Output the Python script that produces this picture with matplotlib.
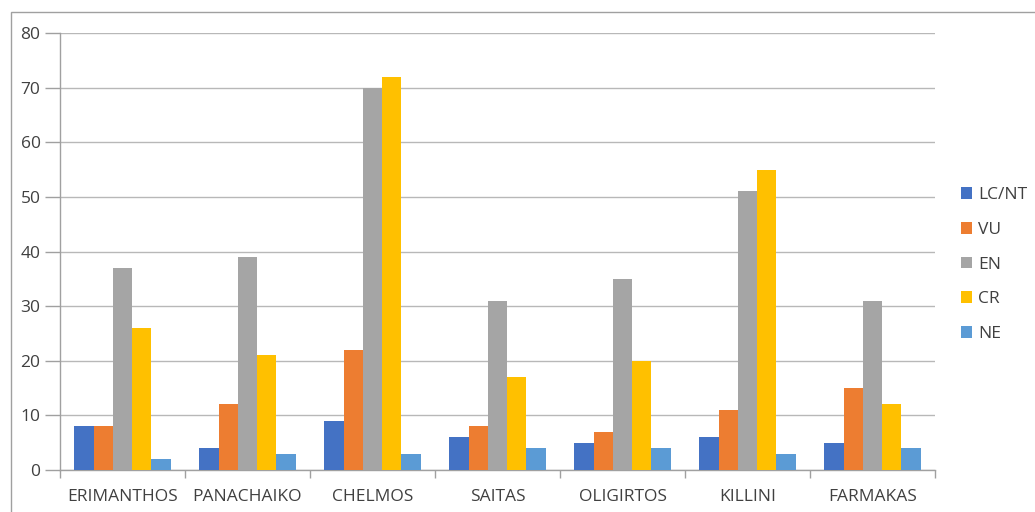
import matplotlib
matplotlib.use("Agg")
import matplotlib.pyplot as plt
import numpy as np
from matplotlib.patches import Rectangle

categories = ["ERIMANTHOS", "PANACHAIKO", "CHELMOS", "SAITAS", "OLIGIRTOS", "KILLINI", "FARMAKAS"]
series_names = ["LC/NT", "VU", "EN", "CR", "NE"]
lc_nt = [8, 4, 9, 6, 5, 6, 5]
vu = [8, 12, 22, 8, 7, 11, 15]
en = [37, 39, 70, 31, 35, 51, 31]
cr = [26, 21, 72, 17, 20, 55, 12]
ne = [2, 3, 3, 4, 4, 3, 4]
yticks = [0, 10, 20, 30, 40, 50, 60, 70, 80]
colors = ["#4472C4", "#ED7D31", "#A5A5A5", "#FFC000", "#5B9BD5"]

plt.rcParams['font.family'] = ['Open Sans', 'DejaVu Sans']

fig = plt.figure(figsize=(10.35, 5.12), dpi=100)
ax = fig.add_axes([60/1035, 1-470/512, 875/1035, 437/512])

# outer chart border
fig.patches.append(Rectangle((11/1035, -0.1), 1.2, 1-12/512+0.1, transform=fig.transFigure,
                             fill=False, edgecolor="#A0A0A0", linewidth=1.0))

x = np.arange(len(categories))
bw = 0.154
data = [lc_nt, vu, en, cr, ne]
for i, (name, vals) in enumerate(zip(series_names, data)):
    ax.bar(x + (i - 2) * bw, vals, width=bw, color=colors[i], label=name, zorder=3)

ax.set_xlim(-0.5, len(categories) - 0.5)
ax.set_ylim(0, 80)
ax.set_yticks(yticks)
ax.yaxis.grid(True, color="#B8B8B8", linewidth=1.0, zorder=0)
ax.set_axisbelow(True)

ax.set_xticks(x)
ax.set_xticklabels(categories)
ax.set_xticks(np.arange(-0.5, len(categories)), minor=True)
ax.tick_params(axis='x', which='major', length=0, pad=14, labelsize=12.5, labelcolor="#404040")
ax.tick_params(axis='x', which='minor', length=6, color="#A0A0A0", width=1)
ax.tick_params(axis='y', length=11, color="#A0A0A0", width=1, labelsize=12.5, labelcolor="#404040", pad=3)

for s in ["top", "right"]:
    ax.spines[s].set_visible(False)
for s in ["left", "bottom"]:
    ax.spines[s].set_color("#A0A0A0")
    ax.spines[s].set_linewidth(1.0)

leg = ax.legend(loc="center left", bbox_to_anchor=(961/875 - 60/875, 0.47), frameon=False,
                fontsize=12.5, handlelength=0.65, handleheight=0.65, handletextpad=0.35,
                labelspacing=1.08, labelcolor="#404040", borderpad=0, borderaxespad=0)

fig.savefig("out.png", dpi=100)
